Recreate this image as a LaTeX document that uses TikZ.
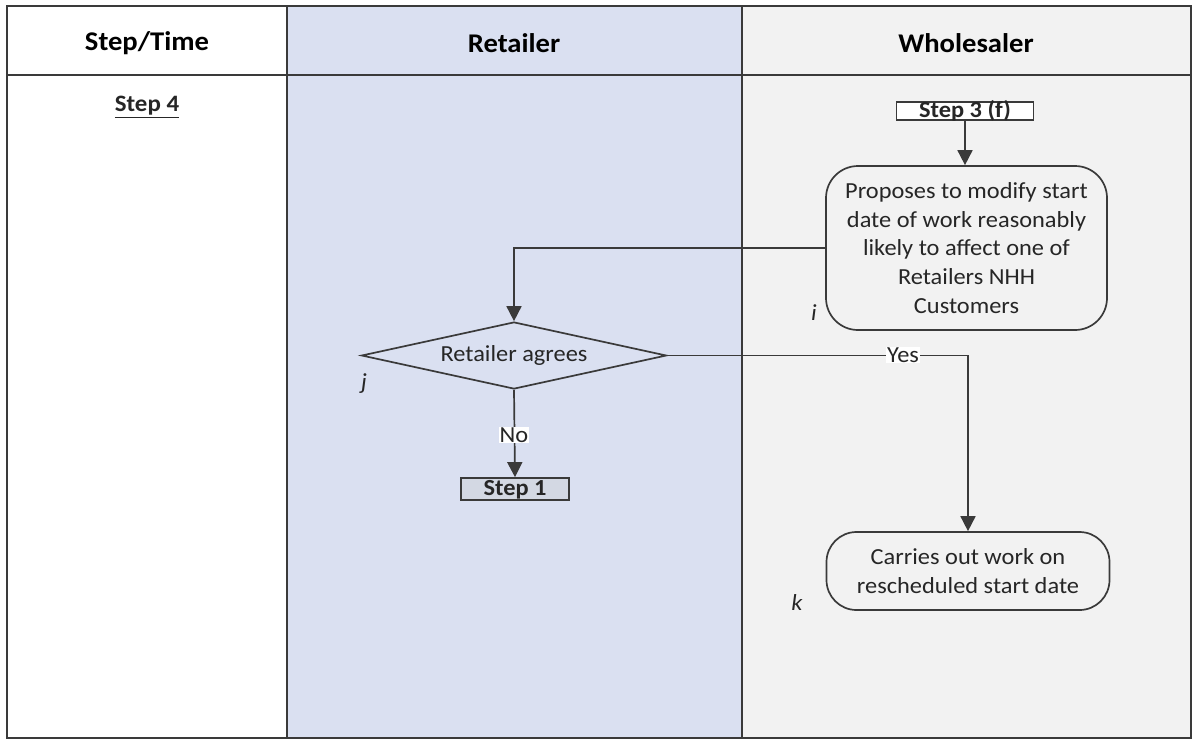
\documentclass[tikz,border=0pt]{standalone}
\usepackage{fontspec}
\setmainfont{Carlito}[FakeStretch=1.06]
\usetikzlibrary{arrows.meta,shapes.geometric}
\definecolor{retbg}{HTML}{DAE0F1}
\definecolor{whobg}{HTML}{F2F2F2}
\definecolor{linec}{HTML}{3A3A3A}
\definecolor{stepone}{HTML}{D3D8E3}
\tikzset{
  frame/.style={draw=linec, line width=2pt},
  hdr/.style={font=\fontsize{27}{30}\selectfont\bfseries, text=black},
  body/.style={font=\fontsize{23}{28.6}\selectfont, text=black!85},
  procbox/.style={draw=linec, line width=1.7pt, rounded corners=32pt, body, align=center, inner sep=0pt},
  stepbox/.style={draw=linec, line width=1.7pt, inner sep=0pt, text height=14pt, text depth=1pt, font=\fontsize{23}{26}\selectfont\bfseries, text=black!85},
  decision/.style={diamond, draw=linec, line width=1.7pt, inner sep=0pt, aspect=4.55, minimum width=305pt, minimum height=67pt, body},
  conn/.style={draw=linec, line width=1.7pt, -{Triangle[width=15pt,length=15pt]}},
  lbl/.style={body, inner sep=1pt},
  tag/.style={font=\fontsize{23}{26}\selectfont\itshape, text=black!85}
}
\begin{document}
\begin{tikzpicture}[x=1pt,y=-1pt]
\useasboundingbox[fill=white] (0,0) rectangle (1194,740);
% column fills
\fill[retbg] (287,6) rectangle (742,738);
\fill[whobg] (742,6) rectangle (1191,738);
% grid
\draw[frame] (7,6) rectangle (1191,738);
\draw[frame] (7,75) -- (1191,75);
\draw[frame] (287,6) -- (287,738);
\draw[frame] (742,6) -- (742,738);
% headers
\node[hdr] (hstep) at (147,43) {Step/Time};
\node[hdr] (hret) at (514,43) {Retailer};
\node[hdr] (hwho) at (966,43) {Wholesaler};
\node[font=\fontsize{23.5}{26}\selectfont\bfseries, text=black!85] (step4) at (147,107) {\underline{Step 4}};
% nodes
\node[stepbox, fill=white, minimum width=137pt, minimum height=18pt] (s3f) at (965,111) {Step 3 (f)};
\node[procbox, minimum width=281pt, minimum height=164pt] (prop) at (966.5,248)
  {Proposes to modify start\\date of work reasonably\\likely to affect one of\\Retailers NHH\\Customers};
\node[decision] (agree) at (514,355.5) {Retailer agrees};
\node[stepbox, fill=stepone, minimum width=108pt, minimum height=22pt] (s1) at (515,489) {Step 1};
\node[procbox, rounded corners=30pt, minimum width=283pt, minimum height=78pt] (carry) at (968,571)
  {Carries out work on\\rescheduled start date};
% tags
\node[tag] (ti) at (814,313) {i};
\node[tag] (tj) at (364,384) {j};
\node[tag] (tk) at (797,603) {k};
% connectors
\draw[conn] (s3f.south) -- (prop.north -| s3f.south);
\draw[conn] (prop.west) -| (agree.north);
\draw[conn] (agree.east) -| (carry.north);
\draw[conn] (agree.south) -- (s1.north);
% labels
\node[lbl, fill=white] (yes) at (903,355) {Yes};
\node[lbl, fill=white] (no) at (514,435) {No};
\end{tikzpicture}
\end{document}
